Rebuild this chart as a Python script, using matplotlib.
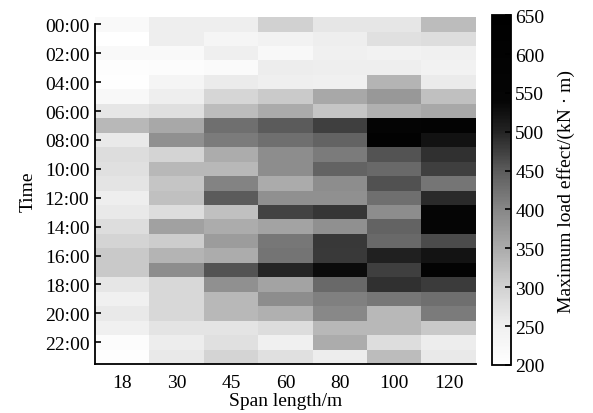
import numpy as np
import matplotlib
matplotlib.use("Agg")
import matplotlib.pyplot as plt
from matplotlib.colors import LinearSegmentedColormap

plt.rcParams['font.family'] = ['Liberation Serif', 'DejaVu Serif']

spans = ["18", "30", "45", "60", "80", "100", "120"]
hours = [f"{h:02d}:00" for h in range(24)]

# Maximum load effect (kN·m), rows = hour 0..23, columns = span length
row00 = [220, 253, 253, 301, 266, 266, 328]
row01 = [200, 253, 233, 243, 253, 276, 282]
row02 = [220, 220, 251, 223, 249, 243, 249]
row03 = [207, 210, 217, 256, 253, 253, 243]
row04 = [203, 233, 259, 251, 249, 338, 259]
row05 = [223, 253, 292, 309, 354, 376, 322]
row06 = [266, 279, 328, 351, 317, 343, 354]
row07 = [333, 354, 427, 450, 475, 560, 575]
row08 = [262, 388, 413, 427, 441, 610, 523]
row09 = [282, 296, 348, 393, 413, 457, 489]
row10 = [276, 333, 333, 393, 441, 434, 475]
row11 = [269, 317, 404, 351, 393, 459, 420]
row12 = [253, 322, 450, 388, 388, 427, 494]
row13 = [262, 282, 322, 471, 484, 393, 545]
row14 = [282, 365, 348, 360, 388, 441, 550]
row15 = [296, 306, 371, 418, 482, 434, 464]
row16 = [312, 338, 348, 422, 480, 505, 521]
row17 = [312, 393, 457, 500, 531, 475, 580]
row18 = [266, 289, 388, 360, 434, 489, 478]
row19 = [249, 289, 333, 393, 408, 418, 427]
row20 = [262, 289, 333, 343, 399, 333, 413]
row21 = [249, 269, 269, 282, 333, 333, 312]
row22 = [210, 256, 276, 249, 348, 282, 256]
row23 = [203, 262, 296, 276, 256, 328, 262]

data = np.array([row00, row01, row02, row03, row04, row05, row06, row07,
                 row08, row09, row10, row11, row12, row13, row14, row15,
                 row16, row17, row18, row19, row20, row21, row22, row23], dtype=float)

vmin, vmax = 200, 650
nodes = [(200, 1.0), (250, 0.94), (300, 0.82), (350, 0.67), (400, 0.53),
         (450, 0.36), (500, 0.14), (540, 0.02), (650, 0.0)]
cmap = LinearSegmentedColormap.from_list(
    "grayload", [((v - vmin) / (vmax - vmin), (g, g, g)) for v, g in nodes])

fig = plt.figure(figsize=(5.93, 4.14), dpi=100)
ax = fig.add_axes([0.160, 0.1184, 0.6425, 0.838])
cax = fig.add_axes([0.8297, 0.116, 0.032, 0.845])

mesh = ax.pcolormesh(np.arange(len(spans) + 1), np.arange(len(hours) + 1), data,
                     cmap=cmap, vmin=vmin, vmax=vmax)
ax.set_xlim(0, len(spans))
ax.set_ylim(len(hours), 0)

ax.set_xticks(np.arange(len(spans)) + 0.5)
ax.set_xticklabels(spans)
ax.set_yticks(np.arange(0, 24, 2) + 0.5)
ax.set_yticklabels(hours[::2])
ax.tick_params(axis='x', length=0, labelsize=14, pad=7)
ax.tick_params(axis='y', direction='in', length=4, width=1.2, labelsize=14, pad=4)
for s in ['top', 'right']:
    ax.spines[s].set_visible(False)
for s in ['left', 'bottom']:
    ax.spines[s].set_linewidth(1.3)
ax.spines['left'].set_bounds(len(hours), 0.5)
ax.set_xlabel("Span length/m", fontsize=14, labelpad=1)
ax.set_ylabel("Time", fontsize=14, labelpad=6)

cb = fig.colorbar(mesh, cax=cax)
cb.set_ticks(np.arange(200, 651, 50))
cb.ax.tick_params(direction='in', length=4, width=1.2, labelsize=14, pad=3)
cb.outline.set_linewidth(1.3)
cb.set_label("Maximum load effect/(kN · m)", fontsize=14, labelpad=9)

fig.savefig("out.png", dpi=100)
